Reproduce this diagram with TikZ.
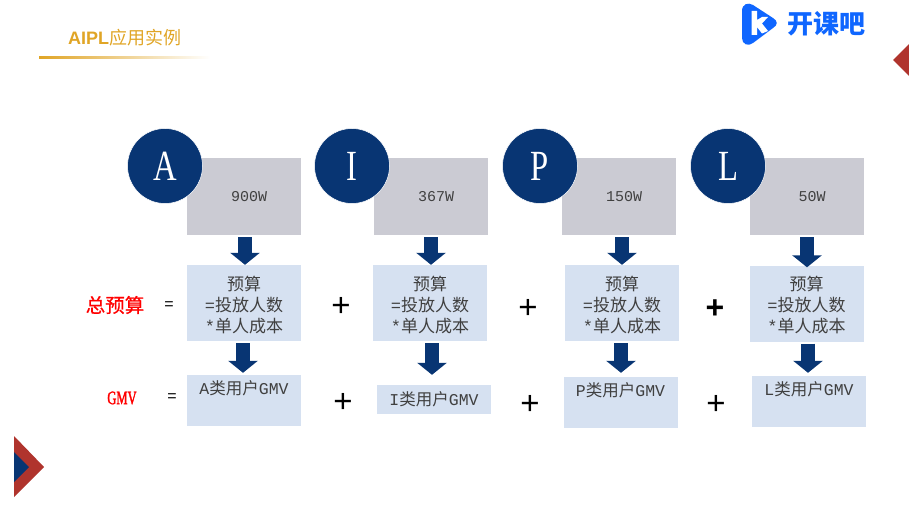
\documentclass[tikz,border=0pt]{standalone}
\usepackage{fontspec}
\setmainfont{Noto Sans CJK SC}
\newfontfamily\latinfont{Liberation Mono}
\newfontfamily\gmvfont[FakeStretch=0.66, FakeBold=1.6]{Liberation Serif}
\newfontfamily\letterfont[FakeStretch=0.76]{Liberation Serif}
\newfontfamily\sansfont{Liberation Sans}
\newfontfamily\labelfont[FakeBold=0.6]{Noto Sans CJK SC}
\usetikzlibrary{arrows.meta, positioning}
\definecolor{navy}{HTML}{083573}
\definecolor{brick}{HTML}{B0342D}
\definecolor{gold}{HTML}{E0A526}
\definecolor{logoblue}{HTML}{0F66FF}
\definecolor{stone}{HTML}{CBCBD3}
\definecolor{pale}{HTML}{D6E1F1}
\definecolor{inktext}{HTML}{404040}

\begin{document}
\begin{tikzpicture}[
    x=1pt, y=-1pt,
    userbox/.style={rectangle, fill=stone, minimum width=114pt, minimum height=77pt, inner sep=0pt, text=inktext, font=\latinfont\fontsize{15}{21}\selectfont, execute at begin node=\hspace*{10pt}},
    disc/.style={circle, fill=navy, draw=white, line width=0.5pt, minimum size=75pt, inner sep=0pt, text=white, font=\letterfont\fontsize{43}{43}\selectfont},
    budget/.style={rectangle, fill=pale, minimum width=114pt, minimum height=76pt, inner sep=0pt, align=center, text=inktext, font=\fontsize{17}{21}\selectfont},
    gmvbox/.style={rectangle, fill=pale, minimum width=114pt, minimum height=51pt, inner sep=0pt, align=center, text=inktext, font=\fontsize{16.5}{21}\selectfont},
    plus/.style={inner sep=0pt, font=\sansfont\fontsize{33}{33}\selectfont},
    equals/.style={inner sep=0pt, font=\sansfont\fontsize{16}{16}\selectfont},
    redlabel/.style={inner sep=0pt, text=red, font=\labelfont\fontsize{19.5}{19.5}\selectfont},
    arrow/.style={-{Triangle[length=12pt, width=29pt]}, line width=14pt, draw=navy, shorten <=2pt}
]
\useasboundingbox (0,0) rectangle (909,508);

% title
\node[inner sep=0pt, text=gold, anchor=west] (title) at (68,38) {\fontsize{18}{18}\selectfont{\sansfont\bfseries AIPL}应用实例};
\shade[left color=gold, right color=white] (39,57) rectangle (210,59);

% logo
\fill[logoblue] (742,11) .. controls (742,4) and (748,2) .. (753,5) -- (773,18) .. controls (778,21) and (778,25) .. (773,28) -- (753,43) .. controls (748,47) and (742,44) .. (742,38) -- cycle;
\fill[white] (751.5,11) -- (757,11) -- (757,20) -- (762,17) -- (768,17) -- (762,23.5) -- (768,31) -- (762,33.5) -- (757,27) -- (757,35) -- (751.5,35) -- cycle;
\node[inner sep=0pt, text=logoblue, anchor=west] (logo) at (787,24) {\bfseries\fontsize{26}{26}\selectfont 开课吧};

% corner marks
\fill[brick] (909,44) -- (893,60) -- (909,76) -- cycle;
\fill[brick] (14,436) -- (44,467) -- (14,497) -- cycle;
\fill[navy] (14,452) -- (29,467) -- (14,482) -- cycle;

% user counts
\node[userbox] (countA) at (244,196.5) {900W};
\node[userbox] (countI) at (431,196.5) {367W};
\node[userbox] (countP) at (619,196.5) {150W};
\node[userbox] (countL) at (807,196.5) {50W};

\node[disc] (discA) at (165,166) {A};
\node[disc] (discI) at (352,166) {I};
\node[disc] (discP) at (540,166) {P};
\node[disc] (discL) at (728,166) {L};

% budget row
\node[budget] (budgetA) at (244,303) {预算\\{\latinfont =}投放人数\\{\latinfont *}单人成本\\[-23pt]~};
\node[budget] (budgetI) at (430,303) {预算\\{\latinfont =}投放人数\\{\latinfont *}单人成本\\[-23pt]~};
\node[budget] (budgetP) at (622,303) {预算\\{\latinfont =}投放人数\\{\latinfont *}单人成本\\[-23pt]~};
\node[budget] (budgetL) at (806.5,303.5) {预算\\{\latinfont =}投放人数\\{\latinfont *}单人成本\\[-23pt]~};

% gmv row
\node[gmvbox] (gmvA) at (244,400.5) {{\latinfont A}类用户{\latinfont GMV}\\[4pt]~};
\node[gmvbox, minimum height=29pt] (gmvI) at (434,399.5) {{\latinfont I}类用户{\latinfont GMV}};
\node[gmvbox] (gmvP) at (620.5,402.5) {{\latinfont P}类用户{\latinfont GMV}\\[4pt]~};
\node[gmvbox] (gmvL) at (809,401.5) {{\latinfont L}类用户{\latinfont GMV}\\[4pt]~};

% left labels
\node[redlabel] (labelBudget) at (115,305) {总预算};
\node[redlabel, font=\gmvfont\fontsize{19}{19}\selectfont] (labelGmv) at (122,398) {GMV};
\node[equals] (eqBudget) at (169,306) {=};
\node[equals] (eqGmv) at (172,398) {=};

% plus signs
\node[plus] (plusA) at (341,307) {+};
\node[plus] (plusB) at (528,309) {+};
\node[plus, font=\sansfont\bfseries\fontsize{32}{32}\selectfont] (plusC) at (715,309) {+};
\node[plus] (plusD) at (343,403) {+};
\node[plus] (plusE) at (530,405) {+};
\node[plus] (plusF) at (716,405) {+};

% arrows
\draw[arrow] ([xshift=1pt]countA.south) -- ([xshift=1pt]budgetA.north);
\draw[arrow] (countI.south) -- ([xshift=1pt]budgetI.north);
\draw[arrow] ([xshift=3pt]countP.south) -- (budgetP.north);
\draw[arrow, shorten >=-2pt] (countL.south) -- ([xshift=0.5pt]budgetL.north);
\draw[arrow, shorten >=2pt] ([xshift=-1pt]budgetA.south) -- ([xshift=-1pt]gmvA.north);
\draw[arrow, shorten >=10pt] ([xshift=2pt]budgetI.south) -- ([xshift=-2pt]gmvI.north);
\draw[arrow, shorten >=4pt] ([xshift=-1pt]budgetP.south) -- ([xshift=0.5pt]gmvP.north);
\draw[arrow, shorten >=3pt] ([xshift=1.5pt]budgetL.south) -- ([xshift=-1pt]gmvL.north);

\end{tikzpicture}
\end{document}
